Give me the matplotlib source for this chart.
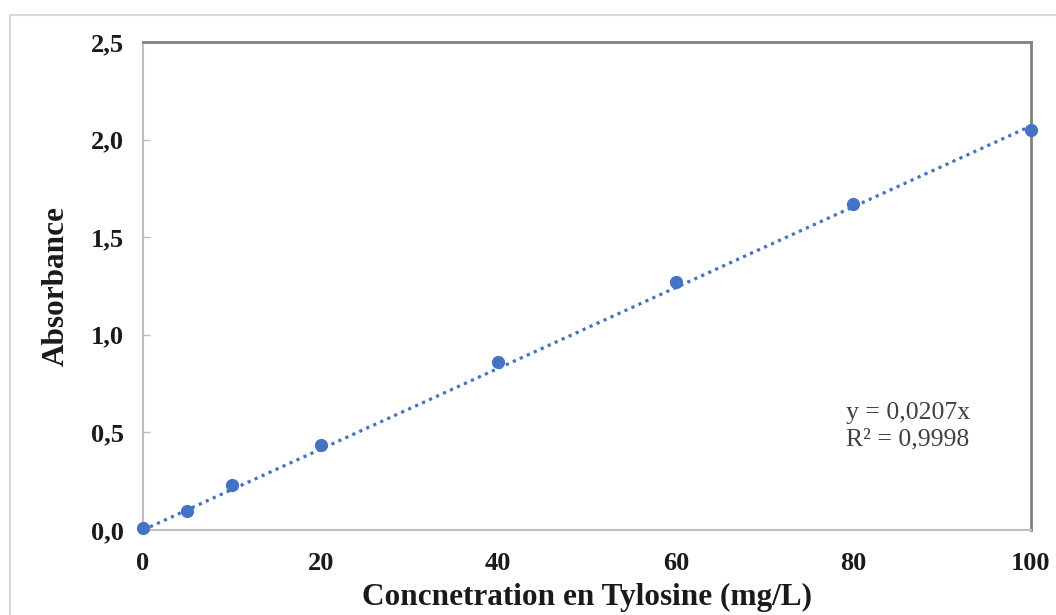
import matplotlib
matplotlib.use("Agg")
import matplotlib.pyplot as plt
from matplotlib.patches import Rectangle
from matplotlib.ticker import FuncFormatter

# Calibration data: tylosin concentration vs absorbance
concentration = [0, 5, 10, 20, 40, 60, 80, 100]
absorbance = [0.01, 0.097, 0.23, 0.435, 0.86, 1.27, 1.67, 2.05]
slope = 0.0207
r_squared = "0,9998"
x_ticks = [0, 20, 40, 60, 80, 100]
y_ticks = [0.0, 0.5, 1.0, 1.5, 2.0, 2.5]

blue = "#4472C4"
serif = ["Liberation Serif", "DejaVu Serif"]

W, H = 1056, 615
fig = plt.figure(figsize=(W / 100, H / 100), dpi=100)

# chart-area frame
fig.add_artist(Rectangle((10 / W, -0.05), 1.2, (H - 15) / H + 0.05,
                         transform=fig.transFigure, fill=False,
                         edgecolor="#d9d9d9", linewidth=1.5))

ax_left, ax_right, ax_top, ax_bottom = 143, 1031, 42, 530
ax = fig.add_axes([ax_left / W, (H - ax_bottom) / H,
                   (ax_right - ax_left) / W, (ax_bottom - ax_top) / H])
ax_h = ax_bottom - ax_top

# linear fit through the origin
fit_x = [concentration[0], concentration[-1]]
fit_y = [slope * v for v in fit_x]
ax.plot(fit_x, fit_y, linestyle=(0, (1, 1.4)), color=blue, linewidth=2.3, zorder=2)
ax.plot(concentration, absorbance, linestyle="none", marker="o", markersize=8.5,
        color=blue, zorder=3, clip_on=False)

ax.set_xlim(0, 100)
ax.set_ylim(0, 2.5)
ax.set_xticks(x_ticks)
ax.set_yticks(y_ticks)
ax.yaxis.set_major_formatter(FuncFormatter(lambda v, p: f"{v:.1f}".replace(".", ",")))
ax.xaxis.set_major_formatter(FuncFormatter(lambda v, p: f"{v:.0f}"))

for side in ("left", "bottom"):
    ax.spines[side].set_color("#bfbfbf")
    ax.spines[side].set_linewidth(1.5)
for side in ("top", "right"):
    ax.spines[side].set_color("#808080")
    ax.spines[side].set_linewidth(2)

ax.tick_params(axis="y", direction="in", length=5, color="#bfbfbf", width=1, pad=14)
ax.tick_params(axis="x", length=0, pad=16)
for lbl in ax.get_xticklabels() + ax.get_yticklabels():
    lbl.set_fontfamily(serif)
    lbl.set_fontweight("bold")
    lbl.set_fontsize(19)
    lbl.set_color("#1a1a1a")

ax.set_xlabel("Concnetration en Tylosine (mg/L)", fontfamily=serif, fontweight="bold",
              fontsize=22.5, color="#1a1a1a")
ax.xaxis.set_label_coords(0.5, -(H - ax_bottom - 3) / ax_h, transform=ax.transAxes)
ax.xaxis.label.set_verticalalignment("bottom")
ax.set_ylabel("Absorbance", fontfamily=serif, fontweight="bold",
              fontsize=22.5, color="#1a1a1a", labelpad=14)

ax.text(0.792, 0.213, f"y = {str(slope).replace('.', ',')}x\nR² = {r_squared}",
        transform=ax.transAxes, fontfamily=serif, fontsize=18.5, color="#404040",
        ha="left", va="center", linespacing=1.3)

fig.savefig("out.png", dpi=100)
